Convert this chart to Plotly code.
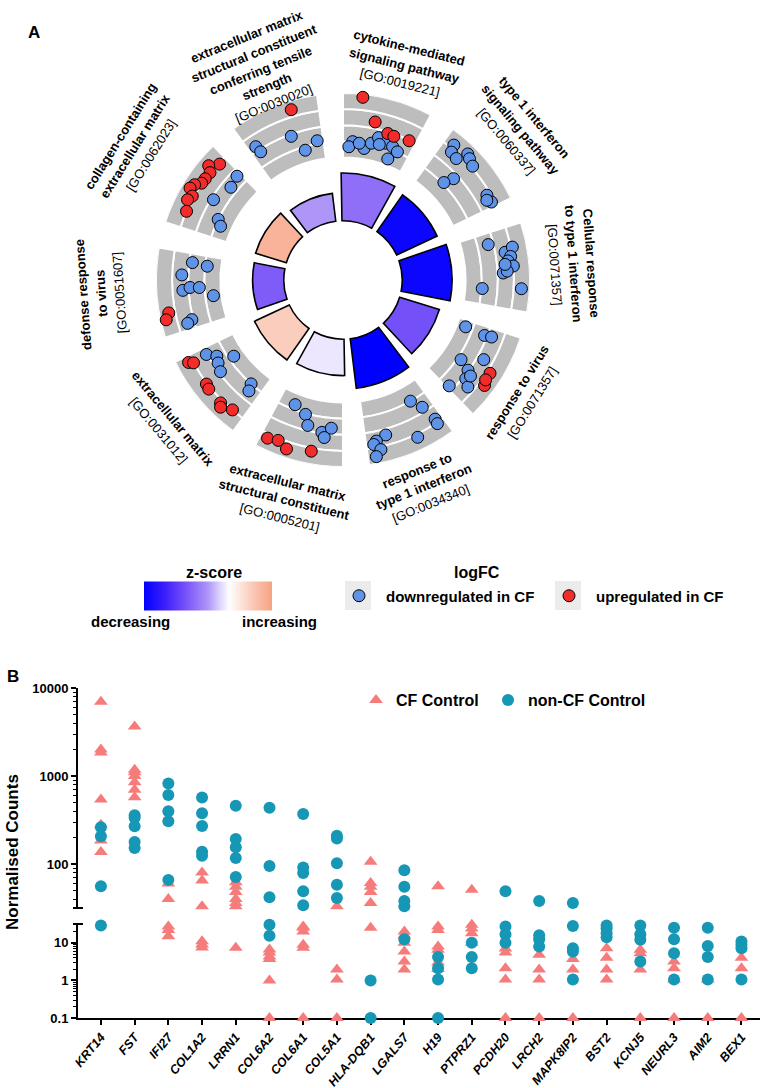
import math
import plotly.graph_objects as go

FONT = "Liberation Sans"
W, H = 768, 1088

# ===================== Panel A data (GO circle) =====================
TERM_NAMES = [
    "cytokine-mediated<br>signaling pathway",
    "type 1 interferon<br>signaling pathway",
    "Cellular response<br>to type 1 interferon",
    "response to virus",
    "response to<br>type 1 interferon",
    "extracellular matrix<br>structural constituent",
    "extracellular matrix",
    "defonse response<br>to virus",
    "collagen-containing<br>extracellular matrix",
    "extracellular matrix<br>structural constituent<br>conferring tensile<br>strength",
]
TERM_IDS = ["GO:0019221", "GO:0060337", "GO:0071357", "GO:0071357", "GO:0034340",
            "GO:0005201", "GO:0031012", "GO:0051607", "GO:0062023", "GO:0030020"]
Z_SCORE = [-1.6, -3.8, -3.8, -2.1, -4.0, -0.25, 1.0, -1.9, 1.6, -1.0]
NEG_LOG10_P = [9.2, 8.6, 9.6, 8.0, 9.6, 7.0, 7.4, 6.0, 6.2, 5.4]

# genes in each term: position inside the sector (deg) and logFC ring level
UP_POS = [
    [10.2, 15.5, 21.0, 23.5, 29.4],
    [], [],
    [18.4, 22.7, 21.0],
    [],
    [29.5, 26.0, 22.5, 14.5],
    [29.9, 29.0, 20.7, 18.9, 12.9, 8.4, 11.9],
    [11.3, 9.3],
    [29.2, 26.4, 24.9, 22.3, 20.4, 18.7, 17.0, 15.1, 13.3, 9.7],
    [23.1],
]
UP_RING = [
    [3.8, 2.4, 1.9, 1.85, 1.96],
    [], [],
    [3.2, 3.35, 3.2],
    [],
    [3.27, 3.13, 3.45, 3.2],
    [3.26, 3.0, 3.05, 3.13, 3.16, 2.98, 3.35],
    [3.4, 3.64],
    [2.9, 3.34, 3.0, 3.0, 3.03, 3.34, 3.47, 3.1, 3.25, 3.0],
    [3.44],
]
DOWN_POS = [
    [8.0, 6.5, 13.1, 15.7, 18.0, 21.2, 24.4, 27.0, 24.3, 10.8, 19.0],
    [7.4, 8.3, 11.0, 12.7, 14.2, 16.7, 15.5, 14.0, 27.5, 30.3, 29.0],
    [8.3, 12.3, 11.0, 14.0, 15.4, 17.3, 19.5, 18.9, 25.5, 24.8, 16.5],
    [6.9, 7.4, 7.0, 20.0, 15.5, 21.8, 24.8, 26.6, 30.9, 23.0],
    [10.9, 8.1, 6.5, 6.7, 14.6, 24.6, 28.3, 29.4, 27.4, 29.3],
    [25.0, 19.6, 17.6, 11.9, 8.5, 10.8],
    [29.4, 26.9, 24.4, 21.2, 23.1, 9.5, 8.3],
    [23.8, 28.6, 27.8, 18.3, 19.2, 19.0, 15.1, 7.3, 6.4],
    [30.4, 25.6, 17.8, 11.9, 9.7],
    [6.8, 7.3, 20.2, 23.8, 29.5],
]
DOWN_RING = [
    [1.0, 0.67, 0.66, 1.06, 1.5, 1.28, 1.22, 1.03, 0.4, 0.94, 1.1],
    [3.23, 2.8, 2.7, 3.4, 3.27, 3.1, 1.7, 1.1, 2.76, 2.8, 2.6],
    [1.67, 2.6, 3.1, 2.9, 2.7, 3.0, 2.35, 2.6, 1.05, 3.48, 2.5],
    [0.54, 1.83, 2.27, 1.23, 2.43, 1.96, 2.17, 2.6, 1.7, 2.3],
    [1.0, 1.7, 2.75, 3.06, 3.2, 2.37, 2.6, 2.78, 3.18, 3.55],
    [0.68, 1.05, 1.68, 1.94, 1.62, 2.24],
    [2.05, 1.54, 1.7, 1.89, 0.66, 1.0, 1.42],
    [2.4, 1.8, 0.86, 2.35, 1.9, 1.32, 0.49, 2.09, 2.4],
    [1.6, 1.42, 1.85, 1.0, 0.69],
    [2.28, 1.85, 1.87, 0.78, 1.18],
]

# ===================== Panel B data =====================
GENES = ["KRT14", "FST", "IFI27", "COL1A2", "LRRN1", "COL6A2", "COL6A1", "COL5A1",
         "HLA-DQB1", "LGALS7", "H19", "PTPRZ1", "PCDH20", "LRCH2", "MAPK8IP2",
         "BST2", "KCNJ5", "NEURL3", "AIM2", "BEX1"]
CF_COUNTS = [
    [7000, 2000, 1850, 540, 280, 185, 137],
    [3650, 1180, 1100, 1000, 850, 700, 575],
    [60, 40, 27, 22, 15],
    [80, 65, 33, 11, 9, 7.5],
    [62, 55, 48, 40, 36, 33, 7.4],
    [6.6, 5.5, 4.3, 3.7, 1, 0.1],
    [27, 25, 20, 8.9, 7.4, 0.1],
    [33, 1.95, 1.05, 0.1],
    [106, 61, 55, 48, 36, 25],
    [20, 16, 10, 5.9, 3.2, 1.95],
    [56, 27, 22, 8, 6.5, 3, 2],
    [51, 30, 24, 18, 10],
    [7, 5.5, 2.1, 1.05, 0.1],
    [4.8, 1.95, 1.05, 0.1],
    [3.7, 1.95, 0.1],
    [7.2, 4, 1.95, 1.05],
    [6.5, 5.3, 1.95, 0.1],
    [3.2, 2.1, 1.05, 0.1],
    [1.05, 0.1],
    [4, 2.1, 0.1],
]
NONCF_COUNTS = [
    [262, 207, 56, 29],
    [358, 335, 268, 178, 152],
    [820, 610, 397, 306, 66],
    [570, 377, 270, 138, 124],
    [458, 192, 155, 117, 71],
    [437, 95, 42, 30, 15.5],
    [370, 91, 79, 49, 34],
    [209, 195, 102, 58, 41],
    [1, 0.1],
    [85, 55, 38, 33, 12.5],
    [4.2, 2.1, 1.05, 0.1],
    [10, 4.2, 2.1],
    [49, 27, 17, 10],
    [38, 16, 12.5, 8],
    [36, 28, 7.2, 5.9, 1.05],
    [29, 24, 18, 14],
    [29, 17, 12, 3.2],
    [25, 12.5, 5.3, 1.05],
    [25, 8.2, 4.2, 1.05],
    [10.8, 8.9, 7.2, 1.05],
]

# ===================== styling / geometry =====================
CX, CY = 343, 280            # circle centre (px)
R_PX = 187                   # px radius of polar area
R_MAX = 180                  # radial range
S = R_PX / R_MAX
HOLE = 57
BAR_SCALE = 5.0
TRACK_IN = 118
BAND = 15.5
SECTOR = 36
START = -4
LABEL_ANGLE = [15.9, 49.7, 86, 122.9, 158.6, 195, 230.8, 266.8, 302.9, 338.5]
LABEL_R = [215, 224, 222, 208, 214, 219, 220, 233, 238, 217]
LINE_GAP = 18

ZSCALE = [[0.0, "#0000FF"], [0.17, "#3F20FB"], [0.333, "#7A55F8"], [0.5, "#AE96F8"],
          [0.6, "#E0D8FD"], [0.667, "#FFFFFF"], [0.85, "#FAC8B6"], [1.0, "#F7A283"]]
BLUE_PT = "#5F93E8"
RED_PT = "#F22B2B"
TRI_COL = "#F67C7C"
CIRC_COL = "#1697B5"

fig = go.Figure()

centers = [START + SECTOR * i + SECTOR / 2 for i in range(len(TERM_NAMES))]

# gray tracks (4 bands with white separators)
for k in range(4):
    fig.add_trace(go.Barpolar(
        theta=centers, r=[BAND] * len(centers), base=TRACK_IN + k * BAND, width=28,
        marker=dict(color="#BDBDBD", line=dict(color="white", width=2)),
        showlegend=False, hoverinfo="skip"))

# inner z-score bars
fig.add_trace(go.Barpolar(
    theta=centers, r=[v * BAR_SCALE for v in NEG_LOG10_P], base=HOLE, width=30,
    marker=dict(color=Z_SCORE, colorscale=ZSCALE, cmin=-4, cmax=2,
                line=dict(color="black", width=1.6),
                colorbar=dict(orientation="h", x=208 / W, xanchor="center",
                              y=1 - 596 / H, yanchor="middle", len=128, lenmode="pixels",
                              thickness=29, outlinewidth=0, showticklabels=False,
                              ticks="", xpad=0, ypad=0)),
    showlegend=False, hoverinfo="skip"))


def gene_points(pos, ring):
    th, rr = [], []
    for i, (ps, rs) in enumerate(zip(pos, ring)):
        for p, lv in zip(ps, rs):
            th.append(START + SECTOR * i + p)
            rr.append(TRACK_IN + lv * BAND)
    return th, rr


th, rr = gene_points(DOWN_POS, DOWN_RING)
fig.add_trace(go.Scatterpolar(theta=th, r=rr, mode="markers", name="downregulated in CF",
                              legend="legend3",
                              marker=dict(color=BLUE_PT, size=12, line=dict(color="black", width=1))))
th, rr = gene_points(UP_POS, UP_RING)
fig.add_trace(go.Scatterpolar(theta=th, r=rr, mode="markers", name="upregulated in CF",
                              legend="legend4",
                              marker=dict(color=RED_PT, size=12, line=dict(color="black", width=1))))

# ===================== Panel B traces =====================
BREAK = 10 ** 1.5


def split(values):
    hx, hy, lx, ly = [], [], [], []
    for g, vals in zip(GENES, values):
        for v in vals:
            if v >= BREAK:
                hx.append(g); hy.append(v)
            else:
                lx.append(g); ly.append(v)
    return hx, hy, lx, ly


for name, vals, sym, col, leg in [("CF Control", CF_COUNTS, "triangle-up", TRI_COL, "legend"),
                                  ("non-CF Control", NONCF_COUNTS, "circle", CIRC_COL, "legend2")]:
    hx, hy, lx, ly = split(vals)
    mk = dict(symbol=sym, color=col, size=12)
    fig.add_trace(go.Scatter(x=lx, y=ly, mode="markers", name=name, legend=leg,
                             legendgroup=name, marker=mk, cliponaxis=False,
                             xaxis="x", yaxis="y"))
    fig.add_trace(go.Scatter(x=hx, y=hy, mode="markers", name=name, legendgroup=name,
                             showlegend=False, marker=mk, cliponaxis=False,
                             xaxis="x", yaxis="y2"))

# ===================== layout =====================
X0, X1 = 78 / W, 760 / W
axis_common = dict(type="log", dtick=1, tick0=0, tickformat="~g", showline=True,
                   linecolor="black", linewidth=2, ticks="outside", ticklen=5, tickwidth=2,
                   tickcolor="black", showgrid=False, zeroline=False, anchor="x",
                   tickfont=dict(family=FONT, size=13, color="black", weight="bold"),
                   minor=dict(ticks="outside", ticklen=3, tickwidth=1, tickcolor="black",
                              dtick="D1", showgrid=False),
                   automargin=False)

annotations = []


def px2paper(x, y):
    return x / W, 1 - y / H


for i, (name, gid) in enumerate(zip(TERM_NAMES, TERM_IDS)):
    c = centers[i]
    if c <= 90:
        ang = c
    elif c < 250:
        ang = c - 180
    else:
        ang = c - 360
    la = math.radians(LABEL_ANGLE[i])
    lx = CX + S * LABEL_R[i] * math.sin(la)
    ly = CY - S * LABEL_R[i] * math.cos(la)
    lines = ["<b>%s</b>" % t for t in name.split("<br>")] + ["[%s]" % gid]
    n = len(lines)
    a = math.radians(ang)
    dvx, dvy = -math.sin(a), math.cos(a)
    for j, t in enumerate(lines):
        off = (j - (n - 1) / 2) * LINE_GAP
        px, py = px2paper(lx + off * dvx, ly + off * dvy)
        annotations.append(dict(x=px, y=py, xref="paper", yref="paper", text=t,
                                showarrow=False, textangle=ang, xanchor="center",
                                yanchor="middle",
                                font=dict(family=FONT, size=13, color="black")))


def add_text(x, y, text, size, bold=True, angle=0, xanchor="center"):
    px, py = px2paper(x, y)
    annotations.append(dict(x=px, y=py, xref="paper", yref="paper", text=text,
                            showarrow=False, textangle=angle, xanchor=xanchor,
                            yanchor="middle",
                            font=dict(family=FONT, size=size, color="black",
                                      weight="bold" if bold else "normal")))


add_text(34, 32, "A", 17)
add_text(13, 676, "B", 17)
add_text(214, 572, "z-score", 16)
add_text(130, 621, "decreasing", 15)
add_text(279, 621, "increasing", 15)
add_text(477, 572, "logFC", 16)
add_text(12, 852, "Normalised Counts", 17, angle=-90)

shapes = [
    dict(type="rect", xref="paper", yref="paper", x0=345 / W, x1=371 / W,
         y0=1 - 610 / H, y1=1 - 581 / H, fillcolor="#EBEBEB", line=dict(width=0), layer="below"),
    dict(type="rect", xref="paper", yref="paper", x0=555 / W, x1=581 / W,
         y0=1 - 610 / H, y1=1 - 581 / H, fillcolor="#EBEBEB", line=dict(width=0), layer="below"),
    dict(type="line", xref="paper", yref="y2 domain", x0=X0 - 5 / W, x1=X0 + 5 / W,
         y0=0, y1=0, line=dict(color="black", width=2)),
    dict(type="line", xref="paper", yref="y domain", x0=X0 - 5 / W, x1=X0 + 5 / W,
         y0=1, y1=1, line=dict(color="black", width=2)),
]

leg_common = dict(orientation="h", xanchor="left", yanchor="middle", bgcolor="rgba(0,0,0,0)",
                  borderwidth=0, itemclick=False, itemdoubleclick=False)

fig.update_layout(
    width=W, height=H, margin=dict(l=0, r=0, t=0, b=0),
    paper_bgcolor="white", plot_bgcolor="white",
    font=dict(family=FONT, color="black"),
    polar=dict(domain=dict(x=[(CX - R_PX) / W, (CX + R_PX) / W],
                           y=[1 - (CY + R_PX) / H, 1 - (CY - R_PX) / H]),
               bgcolor="white",
               radialaxis=dict(visible=False, range=[0, R_MAX]),
               angularaxis=dict(visible=False, rotation=90, direction="clockwise")),
    xaxis=dict(domain=[X0, X1], anchor="y", type="category", categoryorder="array",
               categoryarray=GENES, range=[-0.68, 19.55], showline=True, linecolor="black",
               linewidth=2, ticks="outside", ticklen=5, tickwidth=2, tickcolor="black",
               tickangle=-50, showgrid=False, zeroline=False, layer="below traces",
               tickfont=dict(family=FONT, size=12.5, color="black", weight="bold", style="italic"),
               automargin=False),
    yaxis=dict(domain=[1 - 1018 / H, 1 - 924 / H], range=[-1, 1.5], **axis_common),
    yaxis2=dict(domain=[1 - 908 / H, 1 - 688 / H], range=[1.5, 4], **axis_common),
    legend=dict(x=356 / W, y=1 - 700 / H, font=dict(family=FONT, size=16, weight="bold"), **leg_common),
    legend2=dict(x=488 / W, y=1 - 700 / H, font=dict(family=FONT, size=16, weight="bold"), **leg_common),
    legend3=dict(x=332 / W, y=1 - 596 / H, itemwidth=44,
                 font=dict(family=FONT, size=15, weight="bold"), **leg_common),
    legend4=dict(x=542 / W, y=1 - 596 / H, itemwidth=44,
                 font=dict(family=FONT, size=15, weight="bold"), **leg_common),
    annotations=annotations,
    shapes=shapes,
)

fig.write_html("out.html", config={"displayModeBar": False},
               post_script="document.body.style.margin='0px';document.body.style.overflow='hidden';")
